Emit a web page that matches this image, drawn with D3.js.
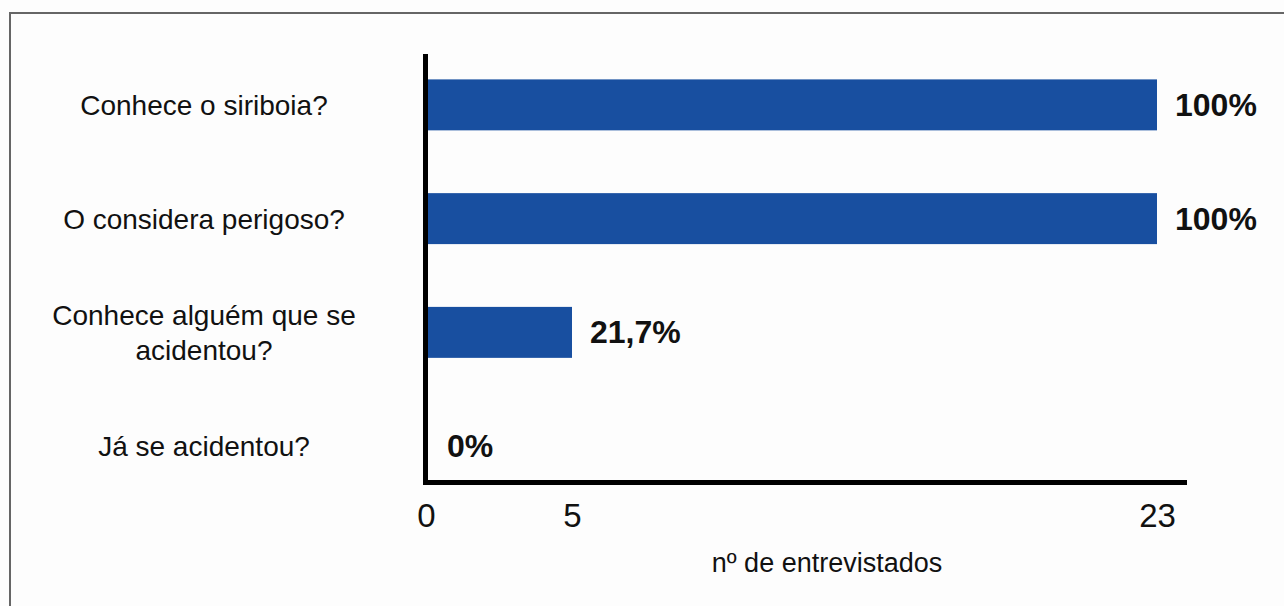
<!DOCTYPE html>
<html>
<head>
<meta charset="utf-8">
<script src="https://cdn.jsdelivr.net/npm/d3@7"></script>
<style>
  html, body { margin: 0; padding: 0; background: #fdfdfd; }
  svg { display: block; font-family: "Liberation Sans", Arial, sans-serif; }
</style>
</head>
<body>
<svg width="1284" height="606"></svg>
<script>
// perguntas do questionário
const categories = [
    "Conhece o siriboia?",
    "O considera perigoso?",
    "Conhece alguém que se acidentou?",
    "Já se acidentou?"
];
// nº de entrevistados que responderam sim
const counts = [23, 23, 5, 0];
const total = 23;
const tickValues = [0, 5, 23];
const axisTitle = "nº de entrevistados";

const width = 1284;
const height = 606;

const svg = d3.select("svg");

// moldura
svg.append("rect")
    .attr("x", 10).attr("y", 13)
    .attr("width", 1300).attr("height", 700)
    .attr("fill", "#fdfdfd")
    .attr("stroke", "#666")
    .attr("stroke-width", 2);

// the original axis is not linear: 5 sits at 1/5 of the way to 23
const x = d3.scaleLinear()
    .domain([0, 5, 23])
    .range([426, 572, 1157]);

const y = d3.scaleBand()
    .domain(categories)
    .range([48, 503])
    .paddingInner(0.552)
    .paddingOuter(0.276);

const pt = d3.formatLocale({ decimal: ",", thousands: ".", grouping: [3], currency: ["R$", ""] });
const pct = pt.format(".1~%");

const rows = categories.map((c, i) => ({ cat: c, n: counts[i] }));

// barras
svg.append("g")
    .selectAll("rect")
    .data(rows)
    .join("rect")
    .attr("x", x(0))
    .attr("y", d => y(d.cat))
    .attr("width", d => x(d.n) - x(0))
    .attr("height", y.bandwidth())
    .attr("fill", "#184fa0");

// rótulos de percentagem
svg.append("g")
    .selectAll("text")
    .data(rows)
    .join("text")
    .attr("x", d => x(d.n) + (d.n === 0 ? 21 : 18))
    .attr("y", d => y(d.cat) + y.bandwidth() / 2 + 11)
    .attr("font-size", 32)
    .attr("font-weight", "bold")
    .attr("fill", "#111")
    .text(d => pct(d.n / total));

// categorias (quebra de linha quando passa de 340px)
const catG = svg.append("g")
    .attr("font-size", 28)
    .attr("fill", "#111")
    .attr("text-anchor", "middle");

rows.forEach(d => {
    const t = catG.append("text").attr("x", 204);
    const words = d.cat.split(" ");
    const lines = [];
    let line = [];
    const probe = t.append("tspan");
    words.forEach(w => {
        line.push(w);
        probe.text(line.join(" "));
        if (probe.node().getComputedTextLength() > 340 && line.length > 1) {
            line.pop();
            lines.push(line.join(" "));
            line = [w];
        }
    });
    lines.push(line.join(" "));
    probe.remove();
    const cy = y(d.cat) + y.bandwidth() / 2;
    const lh = 35;
    lines.forEach((l, k) => {
        t.append("tspan")
            .attr("x", 204)
            .attr("y", cy + 10 - (lines.length - 1) * lh / 2 + k * lh)
            .text(l);
    });
});

// eixos
svg.append("line")
    .attr("x1", 425.5).attr("x2", 425.5)
    .attr("y1", 54).attr("y2", 485)
    .attr("stroke", "#000").attr("stroke-width", 5);
svg.append("line")
    .attr("x1", 423).attr("x2", 1187)
    .attr("y1", 482.5).attr("y2", 482.5)
    .attr("stroke", "#000").attr("stroke-width", 5);

const xAxis = svg.append("g")
    .attr("transform", "translate(0,482)")
    .call(d3.axisBottom(x).tickValues(tickValues).tickSize(0).tickPadding(0));
xAxis.select(".domain").remove();
xAxis.selectAll("text")
    .attr("dy", null)
    .attr("y", 45)
    .attr("font-size", 33)
    .attr("font-family", "'Liberation Sans', Arial, sans-serif")
    .attr("fill", "#111");

svg.append("text")
    .attr("x", 827)
    .attr("y", 572)
    .attr("text-anchor", "middle")
    .attr("font-size", 27)
    .attr("fill", "#111")
    .text(axisTitle);
</script>
</body>
</html>
